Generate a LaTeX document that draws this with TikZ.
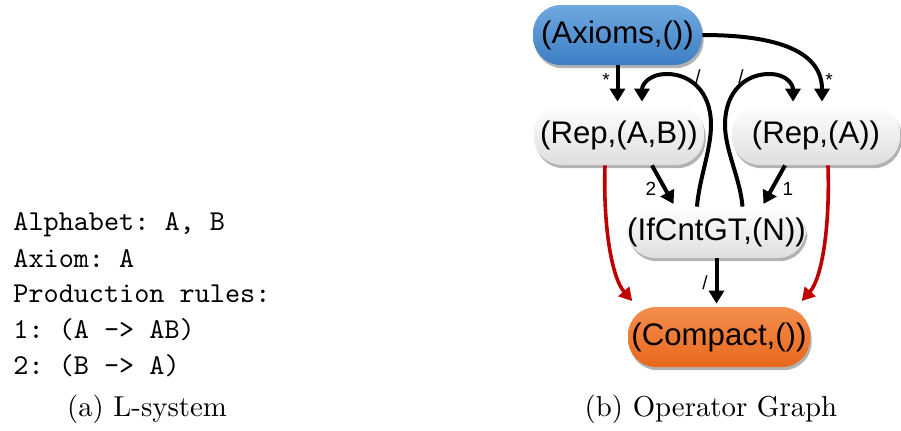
\documentclass[tikz,border=0pt]{standalone}
\usepackage{fontspec}
\newfontfamily\graphfont{Liberation Sans}
\newfontfamily\codefont{lmmono10-regular.otf}
\newfontfamily\capfont{lmroman10-regular.otf}
\usetikzlibrary{arrows.meta,shadows,calc}
\definecolor{opblueT}{RGB}{112,168,224}
\definecolor{opblueB}{RGB}{60,126,196}
\definecolor{oporangeT}{RGB}{244,142,78}
\definecolor{oporangeB}{RGB}{232,104,28}
\definecolor{opgray}{RGB}{222,222,222}
\definecolor{flowred}{RGB}{192,0,0}
\begin{document}
\begin{tikzpicture}[x=0.5pt,y=-0.5pt,
  op/.style={rounded corners=14pt, minimum height=30pt, inner sep=0pt,
    font=\graphfont\fontsize{15.6}{18}\selectfont,
    drop shadow={shadow xshift=0.8pt, shadow yshift=-1.6pt, opacity=0.3, fill=black}},
  plainop/.style={op, top color=white, bottom color=opgray},
  blueop/.style={op, top color=opblueT, bottom color=opblueB},
  orangeop/.style={op, top color=oporangeT, bottom color=oporangeB},
  conn/.style={line width=2pt, shorten >=1.5pt, -{Triangle[width=7.5pt,length=6.5pt]}},
  redconn/.style={line width=1.8pt, draw=flowred, shorten >=1pt, -{Triangle[width=7pt,length=6.5pt]}},
  lab/.style={font=\graphfont\fontsize{9.5}{10}\selectfont, inner sep=0pt},
  code/.style={font=\codefont\fontsize{14.4}{18}\selectfont\frenchspacing, anchor=base west, inner sep=0pt},
  caption/.style={font=\capfont\fontsize{14.4}{18}\selectfont, anchor=base, inner sep=0pt}]
\useasboundingbox (0,0) rectangle (901,430);

% L-system listing
\node[code] (l1) at (13,230) {Alphabet: A, B};
\node[code] (l2) at (13,267) {Axiom: A};
\node[code] (l3) at (13,302) {Production rules:};
\node[code] (l4) at (13,338) {1: (A -> AB)};
\node[code] (l5) at (13,374) {2: (B -> A)};
\node[caption] (capa) at (147,416) {(a) L-system};

% operator nodes
\node[blueop, minimum width=84.5pt] (ax) at (617.5,35) {(Axioms,())};
\node[plainop, minimum width=85pt] (rab) at (619,135) {(Rep,(A,B))};
\node[plainop, minimum width=84pt] (ra) at (816,135) {(Rep,(A))};
\node[plainop, minimum width=88.5pt, minimum height=25.5pt] (ifc) at (716.5,232.5) {(IfCntGT,(N))};
\node[orangeop, minimum width=91pt] (cmp) at (719,337) {(Compact,())};
\node[caption] (capb) at (711,416) {(b) Operator Graph};

% waypoints of the two feedback loops
\coordinate (lw) at (711,125);
\coordinate (lp) at (667,74);
\coordinate (rw) at (725,125);
\coordinate (rp) at (769,74);

% edges from the axioms
\draw[conn] (ax.south) -- (ax.south |- rab.north);
\draw[conn] (ax.east) .. controls +(78,0) and +(0,-52) .. ([xshift=3pt]ra.north);

% feedback loops from the counter test
\draw[conn] ([xshift=-9.75pt]ifc.north) .. controls +(2,-27) and +(0,25) .. (lw)
  .. controls +(0,-35) and +(22,0) .. (lp)
  .. controls +(-18,0) and +(0,-20) .. ([xshift=11.5pt]rab.north);
\draw[conn] ([xshift=13pt]ifc.north) .. controls +(-2,-27) and +(0,25) .. (rw)
  .. controls +(0,-35) and +(-22,0) .. (rp)
  .. controls +(18,0) and +(0,-20) .. ([xshift=-11.5pt]ra.north);

% rules into the counter test
\draw[conn] ([xshift=16.5pt]rab.south) -- ([xshift=-20.75pt]ifc.north);
\draw[conn] ([xshift=-15.5pt]ra.south) -- ([xshift=22.75pt]ifc.north);
\draw[conn] (ifc.south) -- (ifc.south |- cmp.north);

% direct paths to compaction
\draw[redconn] ([xshift=-7pt]rab.south) .. controls +(-2,60) and +(-22,-25) .. ([shift={(3pt,2pt)}]cmp.north west);
\draw[redconn] ([xshift=6pt]ra.south) .. controls +(2,60) and +(22,-25) .. ([shift={(-5pt,2pt)}]cmp.north east);

% edge labels
\node[lab] (s1) at (606,80) {*};
\node[lab] (s2) at (829,80) {*};
\node[lab] (k1) at (698,77) {/};
\node[lab] (k2) at (741,77) {/};
\node[lab] (n2) at (651,189) {2};
\node[lab] (n1) at (788,189) {1};
\node[lab] (k3) at (705,283) {/};
\end{tikzpicture}
\end{document}
